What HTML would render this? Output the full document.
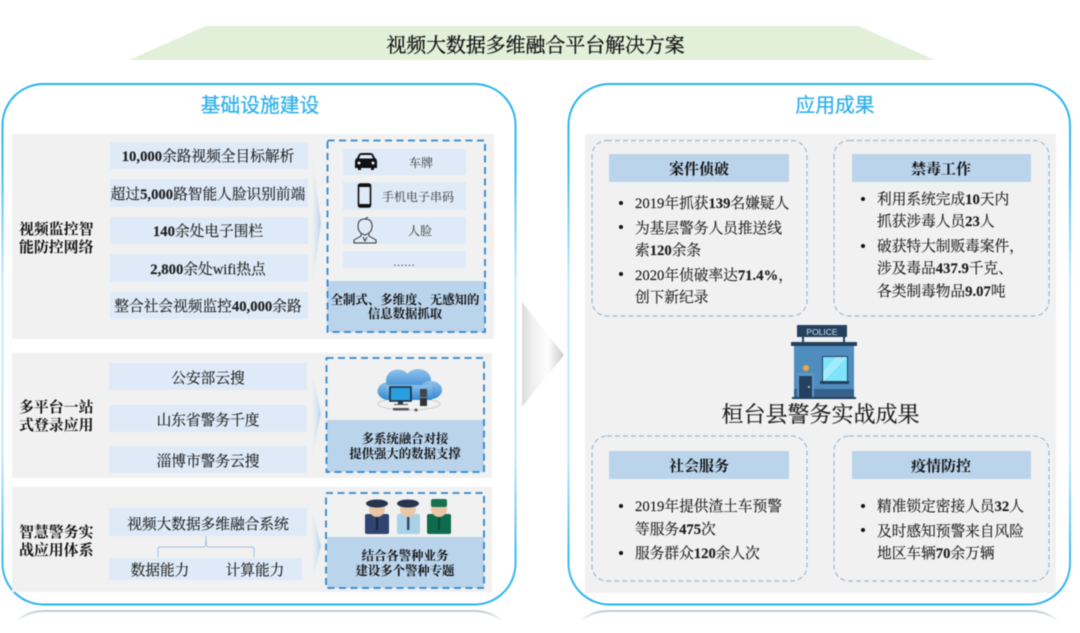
<!DOCTYPE html>
<html lang="zh">
<head>
<meta charset="utf-8">
<title>视频大数据多维融合平台解决方案</title>
<style>
html,body{margin:0;padding:0;background:#fff;width:1080px;height:633px;overflow:hidden}
svg{display:block;filter:blur(.45px)}
text{font-family:"Liberation Serif","Noto Serif CJK SC",serif;fill:#222;font-size:15px}
.c{text-anchor:middle}
.b,tspan.b{font-weight:700}
.lb{font-weight:700;font-size:14.9px;fill:#111}
.cap{font-weight:700;font-size:12.4px;text-anchor:middle;fill:#111}
.h{font-weight:700;font-size:15px;text-anchor:middle;fill:#111}
.t{font-size:14.7px;fill:#1c1c1c;stroke:#1c1c1c;stroke-width:.14}
.s{font-size:12px;text-anchor:middle;fill:#333}
.bt{font-family:"Liberation Sans","Noto Sans CJK SC",sans-serif;font-size:19.8px;fill:#2fb0ea;stroke:#2fb0ea;stroke-width:.25;text-anchor:middle}
</style>
</head>
<body>
<svg width="1080" height="633" viewBox="0 0 1080 633" xmlns="http://www.w3.org/2000/svg">
<defs>
<linearGradient id="chevR" x1="0" x2="1" y1="0" y2="0">
<stop offset="0" stop-color="#eef2f6" stop-opacity=".3"/><stop offset="1" stop-color="#b5d3ef"/>
</linearGradient>
<linearGradient id="big" x1="0" x2="1" y1="0" y2="0">
<stop offset="0" stop-color="#dcdcdc"/><stop offset=".25" stop-color="#f0f0f0"/><stop offset=".62" stop-color="#fdfdfd"/><stop offset="1" stop-color="#c9c9c9"/>
</linearGradient>
<linearGradient id="fade" x1="0" x2="0" y1="0" y2="1">
<stop offset="0" stop-color="#bfcbd0"/><stop offset="1" stop-color="#fff"/>
</linearGradient>
<linearGradient id="cloud" x1="0" x2="0" y1="0" y2="1">
<stop offset="0" stop-color="#8fc2ea"/><stop offset="1" stop-color="#3388d2"/>
</linearGradient>
<linearGradient id="edge" gradientUnits="userSpaceOnUse" x1="0" y1="84" x2="0" y2="605">
<stop offset="0" stop-color="#27b3f0"/><stop offset=".16" stop-color="#3dbcf2"/><stop offset=".38" stop-color="#c4ebfd"/><stop offset=".72" stop-color="#bde8fc"/><stop offset=".9" stop-color="#3dbcf2"/><stop offset="1" stop-color="#27b3f0"/>
</linearGradient>
</defs>

<!-- title band -->
<polygon points="206,26 858,26 935,60 129,60" fill="#e2efd9"/>
<text x="535.5" y="52" class="c" style="font-size:19.9px;fill:#111;stroke:#111;stroke-width:.3">视频大数据多维融合平台解决方案</text>

<!-- reflections -->
<path d="M17,621 Q28,611 45,611 L474,611 Q490,611 502,621" fill="none" stroke="url(#fade)" stroke-width="2"/>
<path d="M581,621 Q592,611 609,611 L1030,611 Q1046,611 1058,621" fill="none" stroke="url(#fade)" stroke-width="2"/>

<!-- panels -->
<rect x="2.5" y="84" width="513" height="520.5" rx="41" fill="#fff" stroke="url(#edge)" stroke-width="2"/>
<rect x="568.5" y="84" width="501.5" height="520.5" rx="41" fill="#fff" stroke="url(#edge)" stroke-width="2"/>

<text x="260" y="112" class="bt">基础设施建设</text>
<text x="835" y="112" class="bt">应用成果</text>

<!-- center chevron -->
<polygon points="522,302 564,355 522,407" fill="url(#big)"/>

<!-- ============ LEFT ROW 1 ============ -->
<rect x="12" y="134" width="482" height="205" fill="#f1f1f1"/>
<text x="19" y="234" class="lb">视频监控智</text>
<text x="19" y="252" class="lb">能防控网络</text>
<g fill="#deeaf7">
<rect x="110" y="142" width="198" height="27"/>
<rect x="110" y="179" width="198" height="28"/>
<rect x="110" y="217" width="198" height="27"/>
<rect x="110" y="254" width="198" height="28"/>
<rect x="110" y="292" width="198" height="27"/>
</g>
<text x="208" y="161" class="c t"><tspan class="b">10,000</tspan>余路视频全目标解析</text>
<text x="208" y="199" class="c t">超过<tspan class="b">5,000</tspan>路智能人脸识别前端</text>
<text x="208" y="236" class="c t"><tspan class="b">140</tspan>余处电子围栏</text>
<text x="208" y="274" class="c t"><tspan class="b">2,800</tspan>余处wifi热点</text>
<text x="208" y="311" class="c t">整合社会视频监控<tspan class="b">40,000</tspan>余路</text>
<polygon points="311,147 321,223 311,297" fill="url(#chevR)"/>

<rect x="327" y="281" width="158" height="51" fill="#bad4ec"/>
<rect x="327.5" y="140.5" width="157.5" height="191.5" fill="none" stroke="#2f86cc" stroke-width="1.8" stroke-dasharray="7 4.5"/>
<g fill="#deeaf7">
<rect x="343" y="149" width="123" height="26"/>
<rect x="343" y="182" width="123" height="28"/>
<rect x="343" y="217" width="123" height="27"/>
<rect x="343" y="251" width="123" height="17"/>
</g>
<text x="421" y="167" class="s">车牌</text>
<text x="418" y="201" class="s">手机电子串码</text>
<text x="420" y="235" class="s">人脸</text>
<text x="404" y="266" class="s" style="font-size:11px">……</text>
<text x="405" y="304" class="cap">全制式、多维度、无感知的</text>
<text x="405" y="318" class="cap">信息数据抓取</text>

<!-- car icon -->
<path d="M355,168 L355,162 Q355,159 357,158 L359,154 Q360,153 362,153 L370,153 Q372,153 373,154 L375,158 Q377,159 377,162 L377,168 L374,168 L374,170 L371,170 L371,168 L361,168 L361,170 L358,170 L358,168 Z" fill="#111"/>
<path d="M360.5,155 L371.5,155 L373,158.5 L359,158.5 Z" fill="#deeaf7"/>
<circle cx="359" cy="163" r="1.5" fill="#deeaf7"/><circle cx="373" cy="163" r="1.5" fill="#deeaf7"/>
<!-- phone icon -->
<rect x="358.5" y="184" width="12" height="23" rx="2" fill="#deeaf7" stroke="#111" stroke-width="1.6"/>
<rect x="358" y="184" width="13" height="3" fill="#111"/><rect x="358" y="204" width="13" height="3" fill="#111"/>
<!-- person icon -->
<g fill="none" stroke="#333" stroke-width="1">
<path d="M358,226 Q358,219 365,219 Q372,219 372,226 Q372,233 365,235 Q358,233 358,226 Z"/>
<path d="M361,234 L361,236 L354,240 L354,243 L376,243 L376,240 L369,236 L369,234"/>
<path d="M363,237 L365,241 L367,237"/>
<path d="M365,219 L368,217"/>
</g>

<!-- ============ LEFT ROW 2 ============ -->
<rect x="12" y="353" width="480" height="125" fill="#f1f1f1"/>
<text x="19" y="412" class="lb">多平台一站</text>
<text x="19" y="430" class="lb">式登录应用</text>
<g fill="#deeaf7">
<rect x="109" y="363" width="198" height="27"/>
<rect x="109" y="405" width="198" height="27"/>
<rect x="109" y="446" width="198" height="27"/>
</g>
<text x="208" y="383" class="c t">公安部云搜</text>
<text x="208" y="425" class="c t">山东省警务千度</text>
<text x="208" y="466" class="c t">淄博市警务云搜</text>
<polygon points="311,367 321,414 311,463" fill="url(#chevR)"/>

<rect x="327" y="420" width="157" height="52" fill="#bad4ec"/>
<rect x="326.5" y="358" width="157.5" height="114" fill="none" stroke="#2f86cc" stroke-width="1.8" stroke-dasharray="7 4.5"/>
<text x="405" y="443" class="cap">多系统融合对接</text>
<text x="405" y="458" class="cap">提供强大的数据支撑</text>
<!-- cloud computer -->
<ellipse cx="409" cy="404" rx="31" ry="6" fill="none" stroke="#c8cdd2" stroke-width="1"/>
<g fill="url(#cloud)">
<ellipse cx="389" cy="391" rx="11.5" ry="9"/>
<ellipse cx="398" cy="380" rx="12" ry="10.5"/>
<ellipse cx="418" cy="380" rx="13" ry="11"/>
<ellipse cx="431" cy="390" rx="11" ry="9"/>
<rect x="386" y="385" width="46" height="15"/>
</g>
<rect x="390" y="387" width="21" height="14" fill="#28a0e0" stroke="#1d2b3a" stroke-width="1.6"/>
<rect x="398" y="401" width="5" height="3" fill="#333"/>
<rect x="393" y="408" width="16" height="2.5" fill="#555"/><rect x="394" y="404" width="14" height="1" fill="#555"/>
<rect x="420" y="389" width="7" height="8" fill="#444"/><rect x="420" y="398" width="7" height="8" fill="#333"/>
<circle cx="416" cy="410" r="1.5" fill="#555"/>

<!-- ============ LEFT ROW 3 ============ -->
<rect x="12" y="487" width="480" height="105" fill="#f1f1f1"/>
<text x="19" y="537" class="lb">智慧警务实</text>
<text x="19" y="555" class="lb">战应用体系</text>
<g fill="#deeaf7">
<rect x="109" y="508" width="198" height="28"/>
<rect x="109" y="558" width="193" height="22"/>
</g>
<text x="208" y="529" class="c t">视频大数据多维融合系统</text>
<text x="160" y="575" class="c t">数据能力</text>
<text x="255" y="575" class="c t">计算能力</text>
<path d="M158,557 L158,549 Q158,547 160,547 L204,547 Q206,547 206,536 Q206,547 208,547 L252,547 Q254,547 254,549 L254,557" fill="none" stroke="#9dbfe0" stroke-width="1"/>
<polygon points="311,505 321,546 311,587" fill="url(#chevR)"/>

<rect x="327" y="537" width="157" height="51" fill="#bad4ec"/>
<rect x="326" y="493" width="158" height="95" fill="none" stroke="#2f86cc" stroke-width="1.8" stroke-dasharray="7 4.5"/>
<text x="405" y="560" class="cap">结合各警种业务</text>
<text x="405" y="575" class="cap">建设多个警种专题</text>
<!-- officers -->
<g>
<rect x="365" y="514" width="24" height="20" rx="2" fill="#2f4470"/>
<circle cx="377" cy="509" r="8" fill="#e8c6a6"/>
<ellipse cx="377" cy="503.5" rx="11" ry="4" fill="#26344f"/>
<rect x="376" y="517" width="2" height="13" fill="#16233f"/>
<rect x="397" y="514" width="23" height="20" rx="2" fill="#a9d2e6"/>
<circle cx="408" cy="509" r="8" fill="#e8c6a6"/>
<ellipse cx="408" cy="503.5" rx="11" ry="4" fill="#26344f"/>
<rect x="407" y="517" width="2.4" height="13" fill="#2f4470"/>
<rect x="427" y="514" width="24" height="20" rx="2" fill="#0f6b4d"/>
<circle cx="439" cy="509" r="8" fill="#e8c6a6"/>
<rect x="431" y="499" width="16" height="8" rx="2" fill="#15714f"/>
<rect x="438" y="517" width="2" height="13" fill="#0a4a36"/>
</g>

<!-- ============ RIGHT ============ -->
<rect x="585" y="134" width="471" height="459" fill="#f1f1f1"/>
<g fill="none" stroke="#a2b8d0" stroke-width="1.2" stroke-dasharray="5 3">
<rect x="592" y="140.5" width="215" height="175.5" rx="15"/>
<rect x="834" y="140.5" width="215" height="175.5" rx="15"/>
<rect x="592" y="436" width="215" height="145" rx="15"/>
<rect x="834" y="436" width="215" height="145" rx="15"/>
</g>
<g fill="#bad4ec">
<rect x="609" y="154" width="180" height="28"/>
<rect x="852" y="154" width="179" height="28"/>
<rect x="609" y="451" width="180" height="28"/>
<rect x="852" y="451" width="179" height="28"/>
</g>
<text x="699" y="174" class="h">案件侦破</text>
<text x="941" y="174" class="h">禁毒工作</text>
<text x="699" y="471" class="h">社会服务</text>
<text x="941" y="471" class="h">疫情防控</text>

<!-- bullets -->
<g fill="#111">
<circle cx="621" cy="203" r="2"/><circle cx="621" cy="227" r="2"/><circle cx="621" cy="274" r="2"/>
<circle cx="863" cy="199" r="2"/><circle cx="863" cy="246" r="2"/>
<circle cx="621" cy="506" r="2"/><circle cx="621" cy="553" r="2"/>
<circle cx="863" cy="506" r="2"/><circle cx="863" cy="530" r="2"/>
</g>
<text x="635" y="208" class="t">2019年抓获<tspan class="b">139</tspan>名嫌疑人</text>
<text x="635" y="233" class="t">为基层警务人员推送线</text>
<text x="635" y="255" class="t">索<tspan class="b">120</tspan>余条</text>
<text x="635" y="280" class="t">2020年侦破率达<tspan class="b">71.4%</tspan>，</text>
<text x="635" y="302" class="t">创下新纪录</text>

<text x="877" y="204" class="t">利用系统完成<tspan class="b">10</tspan>天内</text>
<text x="877" y="226" class="t">抓获涉毒人员<tspan class="b">23</tspan>人</text>
<text x="877" y="251" class="t">破获特大制贩毒案件，</text>
<text x="877" y="273" class="t">涉及毒品<tspan class="b">437.9</tspan>千克、</text>
<text x="877" y="296" class="t">各类制毒物品<tspan class="b">9.07</tspan>吨</text>

<text x="635" y="511" class="t">2019年提供渣土车预警</text>
<text x="635" y="534" class="t">等服务<tspan class="b">475</tspan>次</text>
<text x="635" y="558" class="t">服务群众<tspan class="b">120</tspan>余人次</text>

<text x="877" y="511" class="t">精准锁定密接人员<tspan class="b">32</tspan>人</text>
<text x="877" y="536" class="t">及时感知预警来自风险</text>
<text x="877" y="558" class="t">地区车辆<tspan class="b">70</tspan>余万辆</text>

<!-- police station -->
<rect x="797" y="325" width="50" height="12" fill="#24405f"/>
<text x="822" y="335" class="c" style="font-family:'Liberation Sans',sans-serif;font-size:8.5px;fill:#d5e2ee">POLICE</text>
<rect x="802" y="337" width="2" height="6" fill="#24405f"/><rect x="843" y="337" width="2" height="6" fill="#24405f"/>
<rect x="791" y="342" width="66" height="4" fill="#24405f"/>
<rect x="794" y="346" width="60" height="52" fill="#4f8dbf"/>
<rect x="794" y="389" width="60" height="9" fill="#35618c"/>
<rect x="822" y="356" width="26" height="27" fill="#24405f"/>
<polygon points="823,357 847,357 847,382 823,382" fill="#7fe3fb"/>
<polygon points="836,357 847,357 823,382 823,372" fill="#a4ecfc"/>
<rect x="820" y="381" width="29" height="3" fill="#24405f"/>
<rect x="797" y="373" width="17" height="25" fill="#5f96c3"/>
<rect x="799" y="376" width="13" height="22" fill="#24405f"/>
<circle cx="809" cy="387" r="1" fill="#cfd8e0"/>
<circle cx="806" cy="368" r="3" fill="#f2a83a"/>
<rect x="792" y="397" width="64" height="2" fill="#24405f"/>

<text x="820.5" y="422" class="c" style="font-size:22px;fill:#1c1c1c;stroke:#1c1c1c;stroke-width:.2">桓台县警务实战成果</text>
</svg>
</body>
</html>
